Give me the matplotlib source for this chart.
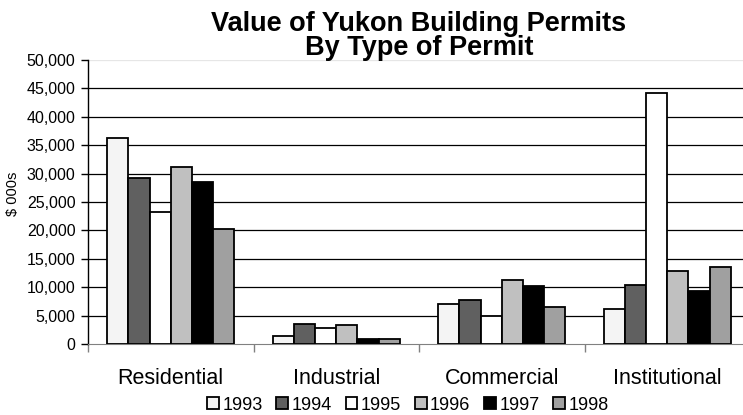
import matplotlib
matplotlib.use('Agg')
import matplotlib.pyplot as plt
import numpy as np

plt.rcParams['font.family'] = ['Liberation Sans', 'DejaVu Sans']

categories = ['Residential', 'Industrial', 'Commercial', 'Institutional']
years = ['1993', '1994', '1995', '1996', '1997', '1998']
# $ 000s, one list per year, in category order
v1993 = [36200, 1400, 7000, 6100]
v1994 = [29300, 3600, 7700, 10300]
v1995 = [23200, 2750, 5000, 44250]
v1996 = [31200, 3350, 11250, 12900]
v1997 = [28550, 800, 10200, 9300]
v1998 = [20200, 950, 6500, 13500]
values = [v1993, v1994, v1995, v1996, v1997, v1998]
colors = ['#f4f4f4', '#606060', '#ffffff', '#c0c0c0', '#000000', '#a0a0a0']

fig = plt.figure(figsize=(7.43, 4.15), dpi=100)
ax = fig.add_axes([88 / 743, 71 / 415, 662 / 743, 284 / 415])

x = np.arange(len(categories))
w = 0.128
for i in range(len(years)):
    ax.bar(x + (i - 2.5) * w, values[i], w, color=colors[i], edgecolor='black',
           linewidth=1.3, label=years[i], zorder=3)

ax.set_xlim(-0.5, 3.5)
ax.set_ylim(0, 50000)
ax.set_yticks(np.arange(0, 50001, 5000))
ax.set_yticklabels([f'{v:,}' for v in range(0, 50001, 5000)], fontsize=11.5)
for v in range(5000, 50000, 5000):
    ax.axhline(v, color='black', linewidth=0.9, zorder=1)
ax.axhline(50000, color='#e6e6e6', linewidth=0.9, zorder=1)

ax.set_xticks(np.arange(-0.5, 4, 1))
ax.set_xticklabels([])
ax.set_xticks(x, minor=True)
ax.set_xticklabels(categories, minor=True, fontsize=15.5)
ax.tick_params(axis='x', which='minor', length=0, pad=17)
ax.tick_params(axis='x', which='major', length=6, color='#808080', width=1)
ax.tick_params(axis='y', length=5, width=1, pad=4)

ax.spines['top'].set_visible(False)
ax.spines['right'].set_visible(False)
ax.spines['bottom'].set_color('#808080')
ax.spines['left'].set_linewidth(1)

ax.set_ylabel('$ 000s', fontsize=10.5)
ax.yaxis.set_label_coords(-68 / 662, 0.53)

fig.text(419 / 743, 1 - 31 / 415, 'Value of Yukon Building Permits', ha='center',
         va='baseline', fontsize=19.5, fontweight='bold')
fig.text(419 / 743, 1 - 55 / 415, 'By Type of Permit', ha='center',
         va='baseline', fontsize=19.5, fontweight='bold')

fig.legend(loc='center', bbox_to_anchor=(408 / 743, 1 - 405 / 415), ncol=6,
           frameon=False, fontsize=13, handlelength=0.65, handleheight=0.65,
           handletextpad=0.2, columnspacing=0.75, borderaxespad=0)

fig.savefig('out.png', dpi=100)
